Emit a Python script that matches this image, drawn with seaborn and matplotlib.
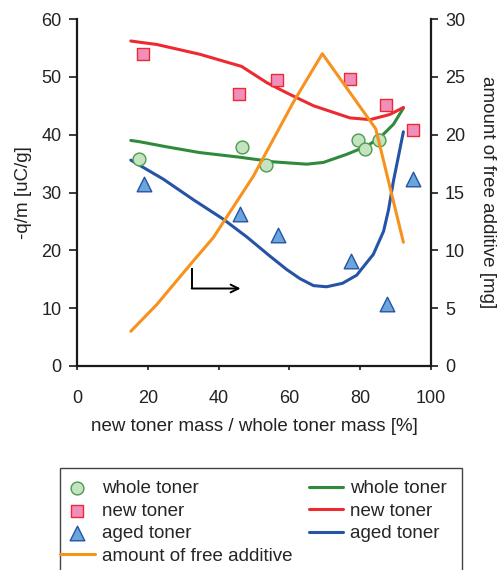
import matplotlib
matplotlib.use("Agg")
import matplotlib.pyplot as plt
from matplotlib.patches import Rectangle
import seaborn as sns

# ---- data ----
whole_x = [17.5, 46.7, 53.4, 79.3, 81.3, 85.3]
whole_y = [35.8, 37.8, 34.8, 39.1, 37.6, 39.1]

new_x = [18.7, 45.9, 56.5, 77.1, 87.4, 94.9]
new_y = [53.9, 47.1, 49.4, 49.6, 45.1, 40.8]

aged_x = [18.9, 46.0, 56.9, 77.4, 87.7, 95.0]
aged_y = [31.4, 26.2, 22.6, 18.1, 10.8, 32.3]

green_x = [15.2, 17.5, 25.3, 34.7, 46.0, 55.5, 64.9, 69.6, 76.2, 81.8, 85.6, 89.4, 92.2]
green_y = [39.0, 38.8, 37.9, 36.9, 36.1, 35.3, 34.9, 35.2, 36.6, 38.0, 39.5, 41.8, 44.6]

red_x = [15.2, 17.5, 22.5, 34.7, 46.5, 53.6, 60.0, 66.8, 77.1, 82.8, 88.4, 92.2]
red_y = [56.2, 56.0, 55.6, 53.9, 51.8, 49.0, 47.0, 45.0, 42.9, 42.6, 43.5, 44.7]

blue_x = [15.2, 24.4, 33.0, 41.3, 48.0, 54.5, 59.2, 63.0, 66.8, 70.5, 75.0, 79.0, 83.7, 86.6, 88.0, 89.4, 92.2]
blue_y = [35.6, 32.3, 28.7, 25.4, 22.3, 19.0, 16.7, 15.1, 13.9, 13.7, 14.3, 15.7, 19.3, 23.3, 27.0, 32.0, 40.5]

add_x = [15.2, 22.5, 32.9, 38.5, 49.8, 61.1, 69.3, 84.4, 92.2]
add_y = [3.0, 5.3, 9.1, 11.1, 16.4, 22.8, 27.0, 20.5, 10.7]

x_ticks = [0, 20, 40, 60, 80, 100]
y_ticks = [0, 10, 20, 30, 40, 50, 60]
y2_ticks = [0, 5, 10, 15, 20, 25, 30]

# ---- colours ----
GREEN = "#2f8a3c"
GREEN_FACE = "#c4e4bf"
RED = "#ec2a2f"
PINK = "#f08fbd"
BLUE = "#2553a6"
LBLUE = "#6aa5dc"
ORANGE = "#f7921e"
TXT = "#222222"

sns.set_style("ticks")
plt.rcParams["font.family"] = ["Liberation Sans", "DejaVu Sans"]

fig = plt.figure(figsize=(4.98, 5.70), dpi=100)
ax = fig.add_axes([77 / 498, 1 - 366 / 570, (431 - 77) / 498, (366 - 19) / 570])
ax2 = ax.twinx()

lw = 2.2
sns.lineplot(x=green_x, y=green_y, ax=ax, color=GREEN, lw=lw, sort=False,
             estimator=None, label="whole toner", zorder=2)
sns.lineplot(x=red_x, y=red_y, ax=ax, color=RED, lw=lw, sort=False,
             estimator=None, label="new toner", zorder=2)
sns.lineplot(x=blue_x, y=blue_y, ax=ax, color=BLUE, lw=lw, sort=False,
             estimator=None, label="aged toner", zorder=2)

sns.scatterplot(x=whole_x, y=whole_y, ax=ax, marker="o", s=85, color=GREEN_FACE,
                edgecolor="#4c9a52", linewidth=1.0, label="whole toner", zorder=3)
sns.scatterplot(x=new_x, y=new_y, ax=ax, marker="s", s=75, color=PINK,
                edgecolor=RED, linewidth=1.0, label="new toner", zorder=3)
sns.scatterplot(x=aged_x, y=aged_y, ax=ax, marker="^", s=110, color=LBLUE,
                edgecolor=BLUE, linewidth=1.0, label="aged toner", zorder=3)

sns.lineplot(x=add_x, y=add_y, ax=ax2, color=ORANGE, lw=lw, sort=False,
             estimator=None, label="amount of free additive")

# arrow pointing to the right axis
ax.annotate("", xy=(46.2, 13.4), xytext=(32.4, 13.4),
            arrowprops=dict(arrowstyle="->", color="black", lw=1.4,
                            mutation_scale=14, shrinkA=0, shrinkB=0))
ax.plot([32.4, 32.4], [16.9, 13.4], color="black", lw=1.4, solid_capstyle="butt")

# axes formatting
ax.set_xlim(0, 100)
ax.set_ylim(0, 60)
ax2.set_ylim(0, 30)
ax.set_xticks(x_ticks)
ax.set_yticks(y_ticks)
ax2.set_yticks(y2_ticks)

fs_lab = 13.5
fs_tick = 13
ax.set_xlabel("new toner mass / whole toner mass [%]", fontsize=fs_lab, color=TXT, labelpad=8)
ax.set_ylabel("-q/m [uC/g]", fontsize=fs_lab, color=TXT, labelpad=7)
ax2.set_ylabel("amount of free additive [mg]", fontsize=fs_lab, color=TXT,
               rotation=270, va="bottom", labelpad=10)

for a in (ax, ax2):
    a.spines["top"].set_visible(False)
    for s in a.spines.values():
        s.set_linewidth(1.6)
        s.set_color("#1a1a1a")
ax.spines["right"].set_visible(False)
ax2.spines["left"].set_visible(False)
ax2.spines["bottom"].set_visible(False)

ax.tick_params(axis="x", direction="out", length=3, width=1.2, labelsize=fs_tick,
               colors="#1a1a1a", labelcolor=TXT, pad=14)
ax.tick_params(axis="y", direction="out", length=6, width=1.2, labelsize=fs_tick,
               colors="#1a1a1a", labelcolor=TXT, pad=5)
ax2.tick_params(axis="y", direction="out", length=5, width=1.2, labelsize=fs_tick,
                colors="#1a1a1a", labelcolor=TXT, pad=5)
for a in (ax, ax2):
    lg = a.get_legend()
    if lg is not None:
        lg.remove()

# legend (combined, two columns)
h1, l1 = ax.get_legend_handles_labels()
h2, l2 = ax2.get_legend_handles_labels()
handles = [h1[3], h1[4], h1[5], h2[0], h1[0], h1[1], h1[2]]
labels = [l1[3], l1[4], l1[5], l2[0], l1[0], l1[1], l1[2]]
fig.legend(handles, labels, loc="upper left",
           bbox_to_anchor=(60 / 498, 1 - 480 / 570), ncol=2, frameon=False,
           borderpad=0, borderaxespad=0, handlelength=1.85, handletextpad=0.37,
           columnspacing=0.88, labelspacing=0.285, fontsize=13.5)
fig.add_artist(Rectangle((60 / 498, -0.05), 402 / 498, (1 - 468 / 570) + 0.05,
                         transform=fig.transFigure, fill=False,
                         edgecolor="#444444", lw=1.0))

fig.savefig("out.png", dpi=100)
